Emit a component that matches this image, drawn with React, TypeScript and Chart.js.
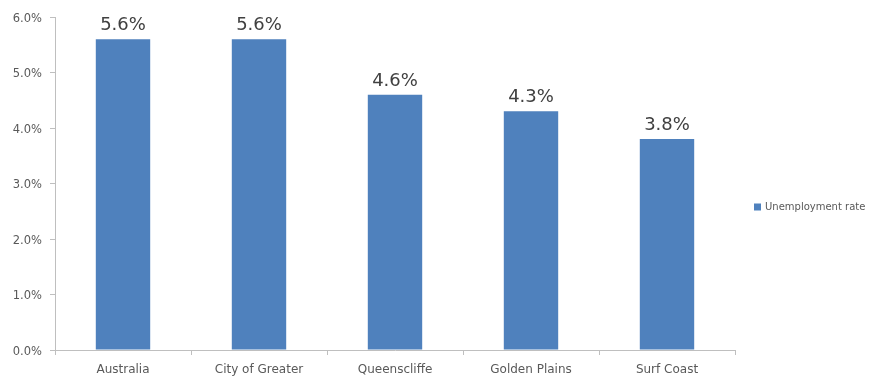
import React, { useEffect, useRef } from "react";
import { Chart, registerables } from "chart.js";

Chart.register(...registerables);

const categories = ["Australia", "City of Greater", "Queenscliffe", "Golden Plains", "Surf Coast"];
const unemploymentRate = [5.6, 5.6, 4.6, 4.3, 3.8];
const seriesLabel = "Unemployment rate";
const yTicks = [0, 1, 2, 3, 4, 5, 6];

const BAR_COLOR = "#4f81bd";
const AXIS_COLOR = "#bfbfbf";
const TEXT_COLOR = "#595959";
const FONT = "'DejaVu Sans', 'Liberation Sans', sans-serif";

// Percentage labels drawn just above every bar
const valueLabels = {
  id: "valueLabels",
  afterDatasetsDraw(chart: any) {
    const { ctx } = chart;
    const meta = chart.getDatasetMeta(0);
    const data = chart.data.datasets[0].data as number[];
    ctx.save();
    ctx.font = `18px ${FONT}`;
    ctx.fillStyle = "#404040";
    ctx.textAlign = "center";
    ctx.textBaseline = "alphabetic";
    meta.data.forEach((bar: any, i: number) => {
      ctx.fillText(`${data[i].toFixed(1)}%`, bar.x, bar.y - 9);
    });
    ctx.restore();
  },
};

// Single-entry legend placed to the right of the plot
const sideLegend = {
  id: "sideLegend",
  afterDraw(chart: any) {
    const { ctx, chartArea } = chart;
    const ds = chart.data.datasets[0];
    const x = chartArea.right + 19;
    const y = 207;
    ctx.save();
    ctx.fillStyle = ds.backgroundColor;
    ctx.fillRect(x, y - 3.5, 7, 7);
    ctx.font = `10px ${FONT}`;
    ctx.fillStyle = TEXT_COLOR;
    ctx.textAlign = "left";
    ctx.textBaseline = "middle";
    ctx.fillText(ds.label, x + 11, y + 0.5);
    ctx.restore();
  },
};

export default function App() {
  const canvasRef = useRef<HTMLCanvasElement | null>(null);

  useEffect(() => {
    document.body.style.margin = "0";
    const canvas = canvasRef.current;
    if (!canvas) return;
    const chart = new Chart(canvas, {
      type: "bar",
      data: {
        labels: categories,
        datasets: [
          {
            label: seriesLabel,
            data: unemploymentRate,
            backgroundColor: BAR_COLOR,
            borderWidth: 0,
            categoryPercentage: 1,
            barPercentage: 0.4,
          },
        ],
      },
      options: {
        animation: false,
        responsive: false,
        devicePixelRatio: 1,
        layout: { padding: { top: 17, right: 134, bottom: 0, left: 0 } },
        plugins: {
          legend: { display: false },
          tooltip: { enabled: false },
          title: { display: false },
        },
        scales: {
          x: {
            grid: {
              display: true,
              drawOnChartArea: false,
              drawTicks: true,
              tickLength: 5,
              color: AXIS_COLOR,
              offset: true,
            },
            border: { display: true, color: AXIS_COLOR, width: 1 },
            ticks: {
              color: TEXT_COLOR,
              font: { family: FONT, size: 12 },
              padding: 8,
              maxRotation: 0,
              autoSkip: false,
            },
            afterFit(scale: any) {
              scale.height = 28;
            },
          },
          y: {
            min: yTicks[0],
            max: yTicks[yTicks.length - 1],
            afterBuildTicks(scale: any) {
              scale.ticks = yTicks.map((v) => ({ value: v }));
            },
            grid: {
              display: true,
              drawOnChartArea: false,
              drawTicks: true,
              tickLength: 5,
              color: AXIS_COLOR,
            },
            border: { display: true, color: AXIS_COLOR, width: 1 },
            ticks: {
              color: TEXT_COLOR,
              font: { family: FONT, size: 11.5 },
              padding: 8,
              labelOffset: 2,
              callback: (v: any) => `${Number(v).toFixed(1)}%`,
            },
            afterFit(scale: any) {
              scale.width = 55;
            },
          },
        },
      },
      plugins: [valueLabels, sideLegend],
    });
    return () => chart.destroy();
  }, []);

  return (
    <div style={{ position: "absolute", left: 0, top: 0, width: 869, height: 378, background: "#fff" }}>
      <canvas ref={canvasRef} width={869} height={378} style={{ width: 869, height: 378 }} />
    </div>
  );
}
